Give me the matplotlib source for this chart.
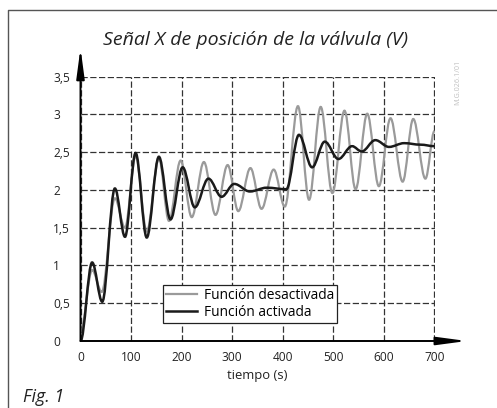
import numpy as np
import matplotlib
matplotlib.use("Agg")
import matplotlib.pyplot as plt
from matplotlib.path import Path
from matplotlib.patches import PathPatch
from matplotlib.lines import Line2D

plt.rcParams['font.family'] = ['Open Sans', 'DejaVu Sans']

# turning points (time in s, signal in V)
t_off = [0, 23, 42, 68, 88, 109, 131, 155, 175, 198, 220, 244, 267, 291, 312,
         336, 358, 382, 404, 430, 452, 475, 498, 522, 544, 567, 590, 613, 637,
         658, 682, 700]
v_off = [0.12, 0.94, 0.65, 1.89, 1.50, 2.45, 1.45, 2.42, 1.59, 2.39, 1.64, 2.37,
         1.67, 2.33, 1.72, 2.29, 1.75, 2.27, 1.78, 3.11, 1.87, 3.10, 1.96, 3.05,
         2.01, 3.01, 2.05, 2.95, 2.11, 2.94, 2.15, 2.78]

t_on = [0, 23, 43, 68, 88, 109, 131, 155, 178, 202, 226, 253, 279, 304, 335,
        368, 407, 432, 458, 483, 510, 537, 556, 583, 610, 640, 672, 700]
v_on = [0.0, 1.04, 0.52, 2.02, 1.38, 2.49, 1.37, 2.44, 1.61, 2.30, 1.77, 2.15,
        1.91, 2.08, 1.98, 2.03, 2.01, 2.73, 2.30, 2.64, 2.41, 2.58, 2.51, 2.66,
        2.57, 2.62, 2.60, 2.58]

x_ticks = [0, 100, 200, 300, 400, 500, 600, 700]
y_ticks = [0, 0.5, 1, 1.5, 2, 2.5, 3, 3.5]
y_labels = ['0', '0,5', '1', '1,5', '2', '2,5', '3', '3,5']

label_off = 'Función desactivada'
label_on = 'Función activada'
col_off = '#9a9a9a'
col_on = '#1a1a1a'


def smooth_path(t, v, k=0.36):
    # cubic bezier pieces with flat tangents at each turning point
    verts = [(t[0], v[0])]
    codes = [Path.MOVETO]
    for i in range(1, len(t)):
        dt = t[i] - t[i - 1]
        verts += [(t[i - 1] + k * dt, v[i - 1]), (t[i] - k * dt, v[i]), (t[i], v[i])]
        codes += [Path.CURVE4] * 3
    return Path(verts, codes)


fig = plt.figure(figsize=(4.97, 4.08), dpi=100)
ax = fig.add_axes([80.5 / 497, 67 / 408, 354 / 497, 264.3 / 408])

ax.set_xlim(0, 700)
ax.set_ylim(0, 3.5)
for s in ax.spines.values():
    s.set_visible(False)

ax.set_xticks(x_ticks)
ax.set_yticks(y_ticks)
ax.set_yticklabels(y_labels)
ax.tick_params(length=0, labelsize=8.6, colors='#222222')
ax.tick_params(axis='x', pad=7)
ax.tick_params(axis='y', pad=19.5)
for lab in ax.get_yticklabels():
    lab.set_horizontalalignment('left')

ax.grid(True, color='#333333', linestyle=(0, (5, 2)), linewidth=0.9)

ax.add_patch(PathPatch(smooth_path(t_off, v_off), facecolor='none',
                       edgecolor=col_off, linewidth=1.6, zorder=3))
ax.add_patch(PathPatch(smooth_path(t_on, v_on), facecolor='none',
                       edgecolor=col_on, linewidth=1.8, zorder=4))

# axes with arrow heads
arrow = dict(arrowstyle='-|>,head_length=0.9,head_width=0.12', color='black',
             linewidth=1.4, mutation_scale=20, shrinkA=0, shrinkB=0)
ax.annotate('', xy=(0, 3.88), xytext=(0, 0), arrowprops=arrow,
            annotation_clip=False, zorder=5)
ax.annotate('', xy=(764, 0), xytext=(0, 0), arrowprops=arrow,
            annotation_clip=False, zorder=5)

handles = [Line2D([], [], color=col_off, linewidth=1.6),
           Line2D([], [], color=col_on, linewidth=1.8)]
leg = ax.legend(handles, [label_off, label_on], loc='lower left',
                bbox_to_anchor=(82.5 / 354, 18 / 264.3), fontsize=9.9,
                fancybox=False, framealpha=1, edgecolor='#222222',
                borderpad=0.2, labelspacing=0.15, handlelength=2.3,
                handletextpad=0.5, borderaxespad=0)
leg.get_frame().set_linewidth(0.9)
leg.set_zorder(6)

ax.set_xlabel('tiempo (s)', fontsize=9.4, labelpad=4, color='#222222')

fig.text(255 / 497, 1 - 40 / 408, 'Señal X de posición de la válvula (V)',
         ha='center', va='center', fontsize=14, style='italic', color='#222222')
fig.text(23 / 497, 1 - 397 / 408, 'Fig. 1', ha='left', va='center',
         fontsize=12.8, style='italic', color='#222222')
fig.text(458 / 497, 1 - 82 / 408, 'M.G.026.1/01', ha='center', va='center',
         rotation=90, fontsize=5.2, color='#c0c0c0')

# outer frame (top and left edges)
fig.add_artist(Line2D([8 / 497, 8 / 497, 1], [0, 1 - 10 / 408, 1 - 10 / 408],
                      color='#555555', linewidth=1.0))

fig.savefig('out.png', dpi=100)
